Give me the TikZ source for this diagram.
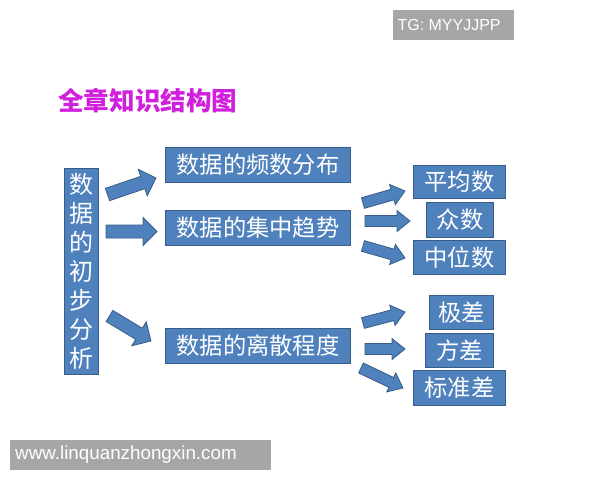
\documentclass[tikz,border=0pt]{standalone}
\usepackage{fontspec}
\setmainfont{Liberation Sans}
\newfontfamily\cjk{Noto Sans CJK SC}
\usetikzlibrary{calc}
\definecolor{boxblue}{RGB}{79,129,189}
\definecolor{boxedge}{RGB}{56,93,138}
\definecolor{wmgray}{RGB}{166,166,166}
\definecolor{titlemag}{RGB}{208,32,222}
\tikzset{
  bluebox/.style={draw=boxedge, line width=1pt, fill=boxblue, text=white, font=\cjk\fontsize{23.3}{26}\selectfont, inner sep=0pt, anchor=north west},
  blockarr/.style={draw=boxedge, line width=0.8pt, fill=boxblue, line join=miter},
  wmbox/.style={fill=wmgray, text=white, inner sep=0pt, anchor=north west}
}
% #1 start, #2 end, #3 shaft half width, #4 head half width, #5 head length
\newcommand{\barrow}[5]{%
  \coordinate (hb) at ($(#2)!#5!(#1)$);
  \draw[blockarr] ($(#1)!#3!90:(#2)$) -- ($(hb)!#3!90:(#2)$) -- ($(hb)!#4!90:(#2)$) -- (#2)
    -- ($(hb)!#4!-90:(#2)$) -- ($(hb)!#3!-90:(#2)$) -- ($(#1)!#3!-90:(#2)$) -- cycle;}
\begin{document}
\begin{tikzpicture}[x=1pt,y=-1pt]
\useasboundingbox (0,0) rectangle (600,480);
% watermarks
\node[wmbox, minimum width=121pt, minimum height=30pt] (tg) at (393,10) {};
\node[text=white, font=\fontsize{16}{18}\selectfont, anchor=west] (tgt) at (394,25) {TG: MYYJJPP};
\node[wmbox, minimum width=261pt, minimum height=30pt] (wm) at (10,440) {};
\node[text=white, font=\fontsize{18.8}{20}\selectfont, anchor=west, inner sep=0pt] (wmt) at (15,455) {www.linquanzhongxin.com};
% title
\node[text=titlemag, font=\cjk\bfseries\fontsize{25.6}{28}\selectfont, anchor=west, inner sep=0pt] (title) at (58,101) {全章知识结构图};
% left box
\node[bluebox, minimum width=34pt, minimum height=206pt, align=center, font=\cjk\fontsize{24}{29}\selectfont] (L) at (64,168) {数\\据\\的\\初\\步\\分\\析};
% middle boxes
\node[bluebox, minimum width=185pt, minimum height=35pt] (m1) at (165,147) {数据的频数分布};
\node[bluebox, minimum width=185pt, minimum height=35pt] (m2) at (165,210) {数据的集中趋势};
\node[bluebox, minimum width=185pt, minimum height=35pt] (m3) at (165,328) {数据的离散程度};
% right boxes
\node[bluebox, minimum width=92pt, minimum height=33pt] (r1) at (413,165) {平均数};
\node[bluebox, minimum width=67pt, minimum height=35pt] (r2) at (426,202) {众数};
\node[bluebox, minimum width=92pt, minimum height=34pt] (r3) at (413,240) {中位数};
\node[bluebox, minimum width=64pt, minimum height=34pt] (r4) at (429,295) {极差};
\node[bluebox, minimum width=68pt, minimum height=34pt] (r5) at (425,333) {方差};
\node[bluebox, minimum width=92pt, minimum height=35pt] (r6) at (413,370) {标准差};
% arrow end points
\coordinate (s1) at (107.5,194.5); \coordinate (e1) at (156,178);
\coordinate (s2) at (106,231.5); \coordinate (e2) at (157,231.5);
\coordinate (s3) at (109.5,316); \coordinate (e3) at (151,341);
\coordinate (s4) at (363,203); \coordinate (e4) at (405,191);
\coordinate (s5) at (365,221); \coordinate (e5) at (410,221);
\coordinate (s6) at (363,246); \coordinate (e6) at (405,258);
\coordinate (s7) at (363,323); \coordinate (e7) at (405,312);
\coordinate (s8) at (365,349); \coordinate (e8) at (405,349);
\coordinate (s9) at (361,368); \coordinate (e9) at (403,388);
\barrow{s1}{e1}{6.5pt}{14pt}{14pt}
\barrow{s2}{e2}{6.5pt}{14pt}{14pt}
\barrow{s3}{e3}{6.5pt}{14pt}{14pt}
\barrow{s4}{e4}{5.5pt}{10.5pt}{13pt}
\barrow{s5}{e5}{5.5pt}{10.5pt}{13pt}
\barrow{s6}{e6}{5.5pt}{10.5pt}{13pt}
\barrow{s7}{e7}{5.5pt}{10.5pt}{13pt}
\barrow{s8}{e8}{5.5pt}{10.5pt}{13pt}
\barrow{s9}{e9}{5.5pt}{10.5pt}{13pt}
\end{tikzpicture}
\end{document}
